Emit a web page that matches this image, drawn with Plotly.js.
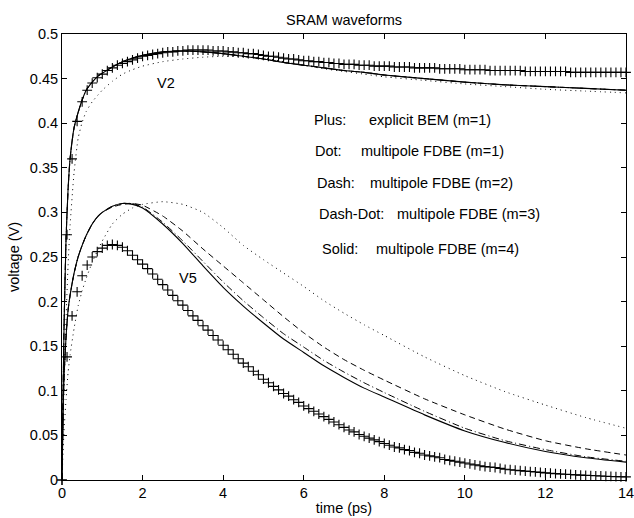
<!DOCTYPE html>
<html>
<head>
<meta charset="utf-8">
<script src="https://cdn.plot.ly/plotly-3.0.1.min.js"></script>
<style>html,body{margin:0;padding:0;background:#fff;}#chart{width:634px;height:518px;}</style>
</head>
<body>
<div id="chart"></div>
<script>
// time grid of the explicit BEM (plus markers), ps
const tPlus = [
  0,0.125,0.25,0.375,0.5,0.625,0.75,0.875,
  1,1.125,1.25,1.375,1.5,1.625,1.75,1.875,
  2,2.125,2.25,2.375,2.5,2.625,2.75,2.875,
  3,3.125,3.25,3.375,3.5,3.625,3.75,3.875,
  4,4.125,4.25,4.375,4.5,4.625,4.75,4.875,
  5,5.125,5.25,5.375,5.5,5.625,5.75,5.875,
  6,6.125,6.25,6.375,6.5,6.625,6.75,6.875,
  7,7.125,7.25,7.375,7.5,7.625,7.75,7.875,
  8,8.125,8.25,8.375,8.5,8.625,8.75,8.875,
  9,9.125,9.25,9.375,9.5,9.625,9.75,9.875,
  10,10.125,10.25,10.375,10.5,10.625,10.75,10.875,
  11,11.125,11.25,11.375,11.5,11.625,11.75,11.875,
  12,12.125,12.25,12.375,12.5,12.625,12.75,12.875,
  13,13.125,13.25,13.375,13.5,13.625,13.75,13.875,
  14
];
const v2Plus = [
  0,0.275,0.360,0.402,0.424,0.437,0.445,0.451,
  0.455,0.459,0.462,0.465,0.467,0.469,0.471,0.473,
  0.475,0.476,0.477,0.478,0.479,0.480,0.480,0.481,
  0.481,0.482,0.482,0.482,0.482,0.482,0.481,0.481,
  0.481,0.480,0.480,0.479,0.479,0.478,0.478,0.477,
  0.476,0.475,0.475,0.474,0.473,0.472,0.472,0.471,
  0.470,0.470,0.469,0.469,0.468,0.468,0.467,0.467,
  0.466,0.466,0.466,0.465,0.465,0.465,0.464,0.464,
  0.464,0.464,0.463,0.463,0.463,0.463,0.462,0.462,
  0.462,0.462,0.462,0.461,0.461,0.461,0.461,0.461,
  0.460,0.460,0.460,0.460,0.460,0.459,0.459,0.459,
  0.459,0.459,0.459,0.459,0.458,0.458,0.458,0.458,
  0.458,0.458,0.458,0.458,0.458,0.457,0.457,0.457,
  0.457,0.457,0.457,0.457,0.457,0.457,0.457,0.457,
  0.457
];
const v5Plus = [
  0,0.138,0.184,0.211,0.229,0.241,0.250,0.256,
  0.260,0.263,0.264,0.263,0.261,0.257,0.252,0.247,
  0.242,0.237,0.231,0.225,0.219,0.213,0.207,0.201,
  0.196,0.190,0.184,0.179,0.173,0.168,0.162,0.157,
  0.151,0.146,0.141,0.136,0.131,0.127,0.122,0.118,
  0.113,0.109,0.105,0.101,0.097,0.094,0.090,0.087,
  0.083,0.080,0.077,0.074,0.071,0.068,0.065,0.062,
  0.059,0.056,0.054,0.051,0.049,0.047,0.045,0.043,
  0.041,0.039,0.037,0.036,0.034,0.033,0.031,0.030,
  0.028,0.027,0.026,0.025,0.023,0.022,0.021,0.020,
  0.019,0.018,0.017,0.016,0.015,0.0145,0.014,0.013,
  0.012,0.0115,0.011,0.0105,0.010,0.0095,0.009,0.0085,
  0.008,0.0076,0.0072,0.0068,0.0065,0.0062,0.0058,0.0055,
  0.0052,0.005,0.0047,0.0045,0.0042,0.004,0.0038,0.0036,
  0.0035
];

// time samples of the multipole FDBE curves, ps
const tLine = [0,0.025,0.05,0.1,0.15,0.2,0.3,0.4,0.5,0.6,0.75,0.9,1,1.25,1.5,1.75,2,2.5,3,3.5,4,4.5,5,5.5,6,6.5,7,7.5,8,9,10,11,12,13,14];

const v2Dot     = [0,0.05,0.10,0.18,0.24,0.285,0.345,0.383,0.401,0.413,0.424,0.432,0.437,0.447,0.455,0.460,0.464,0.469,0.472,0.474,0.475,0.475,0.473,0.469,0.465,0.461,0.458,0.455,0.452,0.448,0.444,0.441,0.438,0.436,0.434];
const v2Dash    = [0,0.09,0.17,0.27,0.325,0.36,0.395,0.412,0.426,0.437,0.446,0.453,0.456,0.463,0.469,0.473,0.476,0.480,0.481,0.480,0.478,0.475,0.472,0.468,0.465,0.462,0.459,0.457,0.454,0.450,0.446,0.443,0.441,0.439,0.437];
const v2DashDot = [0,0.09,0.17,0.27,0.325,0.36,0.395,0.412,0.426,0.437,0.446,0.453,0.456,0.463,0.469,0.473,0.476,0.480,0.481,0.480,0.478,0.475,0.472,0.468,0.465,0.462,0.459,0.457,0.454,0.450,0.446,0.443,0.441,0.439,0.437];
const v2Solid   = [0,0.09,0.17,0.27,0.325,0.36,0.395,0.412,0.426,0.437,0.446,0.453,0.456,0.463,0.469,0.473,0.476,0.480,0.481,0.480,0.478,0.475,0.472,0.468,0.465,0.462,0.459,0.457,0.454,0.450,0.446,0.443,0.441,0.439,0.437];

const v5Dot     = [0,0.03,0.055,0.09,0.12,0.14,0.17,0.195,0.212,0.226,0.244,0.259,0.268,0.287,0.298,0.305,0.309,0.312,0.309,0.300,0.283,0.263,0.247,0.232,0.217,0.201,0.187,0.174,0.162,0.138,0.117,0.099,0.084,0.070,0.058];
const v5Dash    = [0,0.07,0.115,0.16,0.19,0.207,0.232,0.250,0.263,0.274,0.287,0.296,0.300,0.306,0.309,0.310,0.308,0.296,0.279,0.259,0.240,0.221,0.202,0.183,0.165,0.149,0.135,0.123,0.112,0.091,0.073,0.057,0.044,0.035,0.028];
const v5DashDot = [0,0.07,0.115,0.16,0.19,0.207,0.232,0.250,0.263,0.274,0.287,0.296,0.300,0.307,0.310,0.310,0.306,0.289,0.268,0.245,0.222,0.201,0.182,0.164,0.149,0.134,0.121,0.109,0.098,0.077,0.058,0.044,0.034,0.026,0.021];
const v5Solid   = [0,0.07,0.115,0.16,0.19,0.207,0.232,0.250,0.263,0.274,0.287,0.296,0.300,0.307,0.310,0.309,0.305,0.287,0.265,0.240,0.216,0.195,0.176,0.158,0.143,0.128,0.115,0.103,0.093,0.073,0.055,0.042,0.032,0.025,0.020];

const xTickVals = [0,2,4,6,8,10,12,14];
const yTickVals = [0,0.05,0.1,0.15,0.2,0.25,0.3,0.35,0.4,0.45,0.5];
const yTickText = ['0','0.05','0.1','0.15','0.2','0.25','0.3','0.35','0.4','0.45','0.5'];

const legendLabels = ['Plus:','Dot:','Dash:','Dash-Dot:','Solid:'];
const legendTexts  = ['explicit BEM (m=1)','multipole FDBE (m=1)','multipole FDBE (m=2)','multipole FDBE (m=3)','multipole FDBE (m=4)'];

const FONT = 'Liberation Sans, Arial, Helvetica, sans-serif';
const lineStyle = {
  dot:     {color:'#000', width:1, dash:'1px,4px'},
  dash:    {color:'#000', width:1, dash:'6px,4px'},
  dashdot: {color:'#000', width:1, dash:'7px,3px,1px,3px'},
  solid:   {color:'#000', width:1.1}
};
function lineTrace(y, style){
  return {x:tLine, y:y, type:'scatter', mode:'lines', line:Object.assign({shape:'spline', smoothing:0.5}, lineStyle[style]), hoverinfo:'skip'};
}
function plusTrace(y){
  return {x:tPlus, y:y, type:'scatter', mode:'markers', cliponaxis:false,
    marker:{symbol:'cross-thin', size:7, color:'#000', line:{color:'#000', width:1.1}}, hoverinfo:'skip'};
}

const traces = [
  lineTrace(v2Dot,'dot'), lineTrace(v2Dash,'dash'), lineTrace(v2DashDot,'dashdot'), lineTrace(v2Solid,'solid'),
  lineTrace(v5Dot,'dot'), lineTrace(v5Dash,'dash'), lineTrace(v5DashDot,'dashdot'), lineTrace(v5Solid,'solid'),
  plusTrace(v2Plus), plusTrace(v5Plus)
];

// legend-like text placement (data coordinates)
const labelX = [6.2,6.23,6.28,6.33,6.4];
const descX  = [7.57,7.37,7.6,8.27,7.74];
const textY  = [0.404,0.369,0.333,0.298,0.259];

const annotations = [];
for (let i = 0; i < legendLabels.length; i++) {
  annotations.push({x:labelX[i], y:textY[i], xref:'x', yref:'y', text:legendLabels[i], showarrow:false, xanchor:'left', yanchor:'middle', font:{family:FONT, size:14.5, color:'#000'}});
  annotations.push({x:descX[i], y:textY[i], xref:'x', yref:'y', text:legendTexts[i], showarrow:false, xanchor:'left', yanchor:'middle', font:{family:FONT, size:14.5, color:'#000'}});
}
annotations.push({x:2.58, y:0.445, xref:'x', yref:'y', text:'V2', showarrow:false, xanchor:'center', yanchor:'middle', font:{family:FONT, size:14.5, color:'#000'}});
annotations.push({x:3.13, y:0.226, xref:'x', yref:'y', text:'V5', showarrow:false, xanchor:'center', yanchor:'middle', font:{family:FONT, size:14.5, color:'#000'}});

const axisCommon = {
  showline:true, linecolor:'#000', linewidth:1, mirror:'ticks',
  ticks:'inside', ticklen:5, tickwidth:1, tickcolor:'#000',
  showgrid:false, zeroline:false, fixedrange:true,
  ticklabeloverflow:'allow',
  tickfont:{family:FONT, size:14.5, color:'#000'}
};

const layout = {
  width:634, height:518,
  margin:{l:62, r:8, t:34, b:38},
  paper_bgcolor:'#fff', plot_bgcolor:'#fff',
  showlegend:false,
  font:{family:FONT, color:'#000'},
  title:{text:'SRAM waveforms', font:{family:FONT, size:14.5, color:'#000'}, x:0.5, xref:'paper', xanchor:'center', y:0.962, yanchor:'middle'},
  xaxis:Object.assign({}, axisCommon, {range:[0,14], tickmode:'array', tickvals:xTickVals, ticktext:xTickVals.map(String),
    title:{text:'time (ps)', font:{family:FONT, size:14.5, color:'#000'}, standoff:2}}),
  yaxis:Object.assign({}, axisCommon, {range:[0,0.5], tickmode:'array', tickvals:yTickVals, ticktext:yTickText,
    title:{text:'voltage (V)', font:{family:FONT, size:14.5, color:'#000'}, standoff:6}}),
  annotations:annotations
};

Plotly.newPlot('chart', traces, layout, {staticPlot:true, displayModeBar:false});
</script>
</body>
</html>
